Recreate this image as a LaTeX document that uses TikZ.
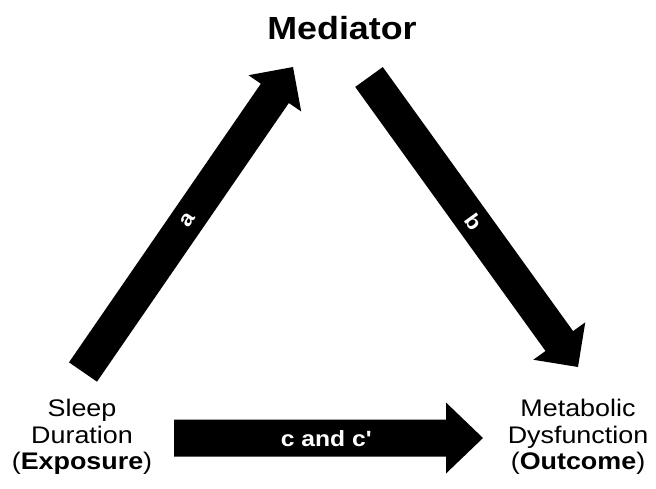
\documentclass[tikz,border=0pt]{standalone}
\usepackage{fontspec}
\setmainfont{Liberation Sans}[FakeStretch=1.12, Ligatures=ResetAll]
\usetikzlibrary{calc}
% #1 tail, #2 tip, #3 half shaft width, #4 half head width, #5 head length
\newcommand{\blockarr}[5]{%
  \coordinate (#1base) at ($(#2)!#5!(#1)$);
  \fill[black] ($(#1)!#3!90:(#2)$) -- ($(#1base)!#3!90:(#2)$) -- ($(#1base)!#4!90:(#2)$)
    -- (#2) -- ($(#1base)!#4!-90:(#2)$) -- ($(#1base)!#3!-90:(#2)$) -- ($(#1)!#3!-90:(#2)$) -- cycle;}
\begin{document}
\begin{tikzpicture}[x=1pt,y=-1pt,
  side/.style={font=\fontsize{24}{26.5}\selectfont, align=center, inner sep=0pt},
  lab/.style={text=white, font=\bfseries\fontsize{21}{24}\selectfont, inner sep=0pt}]
\useasboundingbox[fill=white] (0,0) rectangle (656,488);
\node[font=\bfseries\fontsize{32}{38}\selectfont, inner sep=0pt] (med) at (342,28) {Mediator};
\node[side] (expo) at (82,437) {Sleep\\Duration\\(\textbf{Exposure})};
\node[side] (outc) at (578,437) {Metabolic\\Dysfunction\\(\textbf{Outcome})};
\coordinate (aT) at (83,372);  \coordinate (aH) at (293,67);
\coordinate (bT) at (369,77);  \coordinate (bH) at (578,367);
\coordinate (cT) at (174,438); \coordinate (cH) at (483,438);
\blockarr{aT}{aH}{17pt}{32pt}{32pt}
\blockarr{bT}{bH}{17pt}{32pt}{32pt}
\blockarr{cT}{cH}{18.5pt}{35.5pt}{37pt}
\node[lab, rotate=55] (la) at ($(aT)!0.5!(aH)$) {a};
\node[lab, rotate=-54] (lb) at ($(bT)!0.5!(bH)$) {b};
\node[lab, font=\bfseries\fontsize{22}{26}\selectfont] (lc) at (326,439) {c and c\textquotesingle};
\end{tikzpicture}
\end{document}
